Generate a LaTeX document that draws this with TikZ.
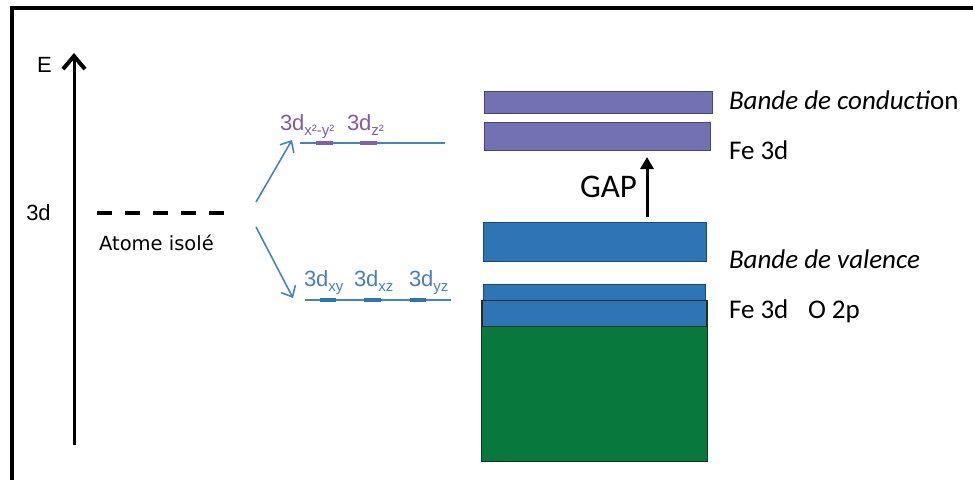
\documentclass[tikz,border=0pt]{standalone}
\usepackage{fontspec}
\setmainfont{Carlito}
\newfontfamily\arialf{Liberation Sans}
\newfontfamily\malgf{DejaVu Sans}
\usetikzlibrary{arrows.meta}
\definecolor{purpfill}{RGB}{114,113,180}
\definecolor{purpdraw}{RGB}{70,70,110}
\definecolor{bluefill}{RGB}{46,117,182}
\definecolor{bluedraw}{RGB}{30,70,115}
\definecolor{greenfill}{RGB}{8,120,61}
\definecolor{greendraw}{RGB}{25,50,30}
\definecolor{lineblue}{RGB}{70,130,195}
\definecolor{labblue}{RGB}{72,126,190}
\definecolor{labpurp}{RGB}{125,92,165}
\definecolor{barpurp}{RGB}{128,96,168}
\newcommand\sbs[1]{\raisebox{-5pt}{\fontsize{15}{15}\selectfont #1}}
\begin{document}
\begin{tikzpicture}[x=1pt,y=-1pt,
  lbl/.style={inner sep=0pt, outer sep=0pt, anchor=base west},
  bandbox/.style={inner sep=0pt, outer sep=0pt, anchor=north west, draw, line width=0.9pt},
  orbline/.style={draw=lineblue, line width=1.6pt},
  pbar/.style={draw=barpurp, line width=4.5pt},
  bbar/.style={draw=bluefill, line width=4.5pt},
  split/.style={draw=lineblue, line width=1.6pt, -{Straight Barb[length=9pt,width=16pt]}},
  orblab/.style={lbl, font=\arialf\fontsize{22}{24}\selectfont},
  rlab/.style={lbl, font=\fontsize{27}{30}\selectfont}
]
\useasboundingbox (0,0) rectangle (973,480);
% frame
\draw[line width=3.2pt, line join=miter] (12,480) -- (12,8) -- (973,8);
% energy axis
\coordinate (ebot) at (74,445);
\coordinate (etop) at (74,53);
\draw[line width=3pt, -{Straight Barb[length=13pt,width=22pt,line width=4pt]}] (ebot) -- (etop);
\node[font=\arialf\fontsize{22}{24}\selectfont, inner sep=0pt, anchor=base] (E) at (44.5,72) {E};
\node[font=\arialf\fontsize{22}{24}\selectfont, inner sep=0pt, anchor=base] (l3d) at (38.5,220) {3d};
% isolated atom level
\coordinate (atl) at (97,213);
\coordinate (atr) at (224,213);
\draw[line width=4.5pt, dash pattern=on 15pt off 13pt] (atl) -- (atr);
\node[font=\malgf\fontsize{19.5}{22}\selectfont, inner sep=0pt, anchor=base] (atome) at (156.5,250) {Atome isolé};
% splitting arrows
\coordinate (s1) at (256,202);
\coordinate (e1) at (292,140);
\coordinate (s2) at (256,227);
\coordinate (e2) at (293,298);
\draw[split] (s1) -- (e1);
\draw[split] (s2) -- (e2);
% eg level
\coordinate (egl) at (300,143);
\coordinate (egr) at (445,143);
\draw[orbline] (egl) -- (egr);
\draw[pbar] (316,143) -- (333,143);
\draw[pbar] (360,143) -- (377,143);
\node[orblab, text=labpurp] (dx2) at (280,130) {3d\sbs{x²-y²}};
\node[orblab, text=labpurp] (dz2) at (347,130) {3d\sbs{z²}};
% t2g level
\coordinate (t2l) at (305,300);
\coordinate (t2r) at (451,300);
\draw[orbline] (t2l) -- (t2r);
\draw[bbar] (320,300) -- (336,300);
\draw[bbar] (364,300) -- (381,300);
\draw[bbar] (410,300) -- (426,300);
\node[orblab, text=labblue] (dxy) at (304,286) {3d\sbs{xy}};
\node[orblab, text=labblue] (dxz) at (354,286) {3d\sbs{xz}};
\node[orblab, text=labblue] (dyz) at (409,286) {3d\sbs{yz}};
% bands
\node[bandbox, fill=purpfill, draw=purpdraw, minimum width=228pt, minimum height=22pt] (cb1) at (484,91) {};
\node[bandbox, fill=purpfill, draw=purpdraw, minimum width=226pt, minimum height=28pt] (cb2) at (484,122) {};
\node[bandbox, fill=bluefill, draw=bluedraw, minimum width=223pt, minimum height=39pt] (vb1) at (483,222) {};
\node[bandbox, fill=bluefill, draw=bluedraw, minimum width=222pt, minimum height=42pt] (vb2) at (483,284) {};
\node[bandbox, fill=greenfill, draw=greendraw, minimum width=226pt, minimum height=161pt] (gr) at (481,300) {};
\node[bandbox, fill=bluefill, draw=greendraw, minimum width=224pt, minimum height=26pt] (vb3) at (482,300) {};
% gap arrow
\coordinate (gapb) at (647,217);
\coordinate (gapt) at (647,157);
\draw[line width=3pt, -{Triangle[length=12pt,width=13pt]}] (gapb) -- (gapt);
\node[lbl, font=\fontsize{33}{35}\selectfont] (gap) at (580,197) {GAP};
% right labels
\node[rlab] (bc) at (729,109) {\textit{Bande de conducti}on};
\node[rlab] (fe1) at (729,159) {Fe 3d};
\node[rlab] (bv) at (729,268) {\textit{Bande de valence}};
\node[rlab] (fe2) at (729,318) {Fe 3d};
\node[rlab] (o2p) at (808,318) {O 2p};
\end{tikzpicture}
\end{document}
